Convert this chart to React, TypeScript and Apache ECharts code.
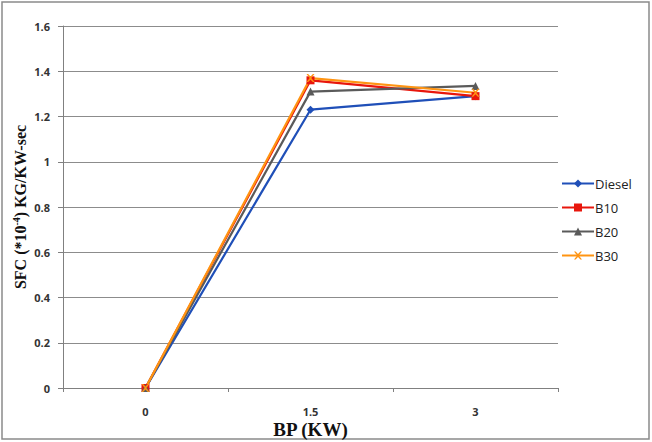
import React, { useEffect, useRef } from "react";
import * as echarts from "echarts";

const categories = ["0", "1.5", "3"];
const diesel = [0, 1.23, 1.29];
const b10 = [0, 1.36, 1.29];
const b20 = [0, 1.31, 1.335];
const b30 = [0, 1.37, 1.305];

const crossPath = "path://M0,0L2,0L5,3L8,0L10,0L6,5L10,10L8,10L5,7L2,10L0,10L4,5Z";

export default function App() {
  const ref = useRef<HTMLDivElement>(null);
  useEffect(() => {
    const chart = echarts.init(ref.current!, null, { renderer: "svg" });
    const mk = (name: string, data: number[], color: string, symbol: string, size: number) => ({
      name,
      type: "line",
      data,
      symbol,
      symbolSize: size,
      lineStyle: { color, width: 2.2 },
      itemStyle: { color },
      color,
    });
    chart.setOption({
      animation: false,
      backgroundColor: "#fff",
      textStyle: { fontFamily: "Open Sans" },
      grid: { left: 63, right: 94, top: 26, bottom: 54, outerBoundsMode: "none", containLabel: false },
      graphic: [
        {
          type: "rect",
          shape: { x: 2, y: 2, width: 647, height: 437 },
          style: { fill: "none", stroke: "#8a8a8a", lineWidth: 1.5 },
          silent: true,
        },
      ],
      legend: {
        orient: "vertical",
        left: 556,
        top: 172,
        itemWidth: 32,
        itemHeight: 10,
        itemGap: 11,
        textStyle: { fontSize: 13, color: "#222", fontFamily: "Open Sans", padding: [0, 0, 0, -4] },
        data: ["Diesel", "B10", "B20", "B30"],
      },
      xAxis: {
        type: "category",
        data: categories,
        boundaryGap: true,
        name: "BP (KW)",
        nameLocation: "middle",
        nameGap: 33,
        nameMoveOverlap: false,
        nameTextStyle: { fontFamily: "Liberation Serif", fontWeight: "bold", fontSize: 19, lineHeight: 17, color: "#111" },
        axisLine: { lineStyle: { color: "#808080", width: 1 } },
        axisTick: { show: true, alignWithLabel: false, length: 4, lineStyle: { color: "#808080" } },
        axisLabel: { fontSize: 11, lineHeight: 11, color: "#333", fontWeight: "bold", margin: 18 },
      },
      yAxis: {
        type: "value",
        min: 0,
        max: 1.6,
        interval: 0.2,
        name: "{a|SFC (*10}{s|-4}{a|) KG/KW-sec}",
        nameLocation: "middle",
        nameGap: 34,
        nameMoveOverlap: false,
        nameTextStyle: {
          rich: {
            a: { fontFamily: "Liberation Serif", fontWeight: "bold", fontSize: 16, color: "#111" },
            s: { fontFamily: "Liberation Serif", fontWeight: "bold", fontSize: 10, color: "#111", verticalAlign: "top", padding: [0, 0, 8, 0] },
          },
        },
        axisLine: { show: true, lineStyle: { color: "#808080", width: 1 } },
        axisTick: { show: true, length: 5, lineStyle: { color: "#808080" } },
        splitLine: { lineStyle: { color: "#8c8c8c", width: 1 } },
        axisLabel: {
          fontSize: 11,
          color: "#333",
          fontWeight: "bold",
          margin: 13,
          formatter: (v: number) => String(Math.round(v * 10) / 10),
        },
      },
      series: [
        mk("Diesel", diesel, "#1f4fb8", "diamond", 8),
        mk("B10", b10, "#e8160c", "rect", 8),
        mk("B20", b20, "#5a5a5a", "triangle", 8),
        mk("B30", b30, "#ff9412", crossPath, 8),
      ],
    });
    return () => chart.dispose();
  }, []);
  return <div ref={ref} style={{ width: 652, height: 442, position: "absolute", left: 0, top: 0 }} />;
}
